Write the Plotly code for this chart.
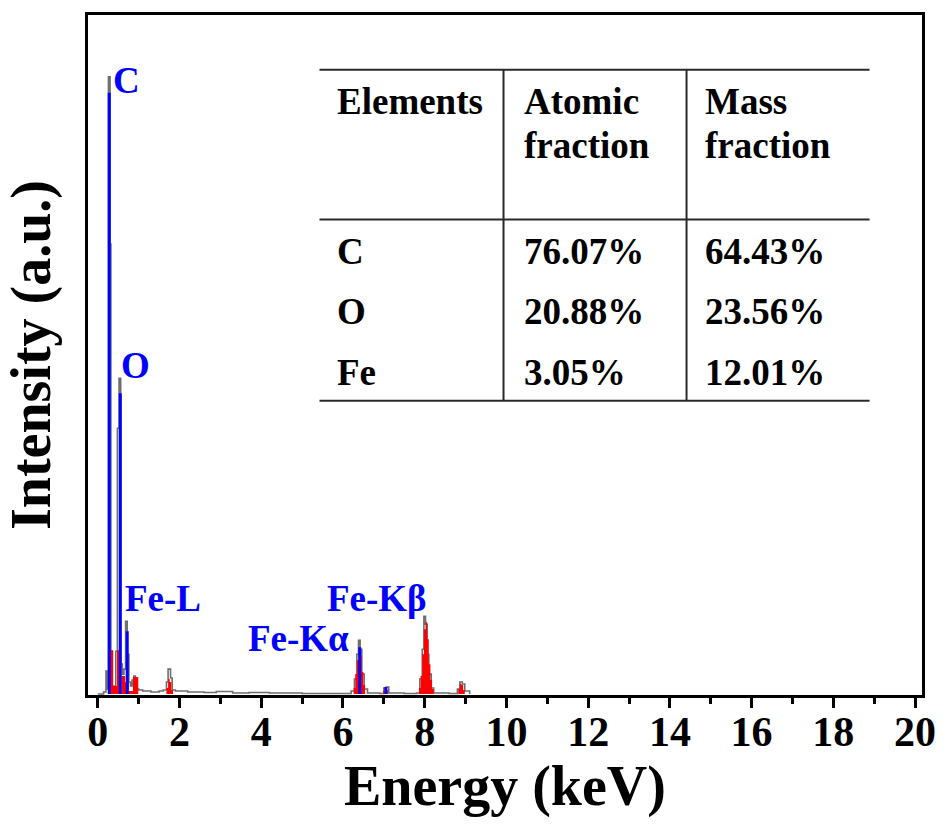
import plotly.graph_objects as go

# ---------------- data ----------------
# gray measured spectrum (step outline)
spec_energy = [0.00, 0.14, 0.20, 0.22, 0.26, 0.30, 0.32, 0.36, 0.44, 0.48, 0.52, 0.56, 0.60,
               0.64, 0.68, 0.72, 0.76, 0.80, 0.84, 0.88, 0.92, 0.96, 1.00, 1.10, 1.30, 1.50,
               1.60, 1.68, 1.72, 1.78, 1.82, 1.90, 2.20, 2.60, 2.90, 3.30, 3.70, 4.20, 5.00,
               6.00, 6.20, 6.28, 6.34, 6.38, 6.42, 6.46, 6.52, 6.60, 6.90, 7.00, 7.06, 7.12,
               7.50, 7.80, 7.88, 7.94, 7.98, 8.02, 8.06, 8.10, 8.16, 8.22, 8.60, 8.80, 8.86,
               8.92, 8.98, 9.10]
spec_counts = [0, 2, 23, 5, 620, 452, 43, 8, 43, 267, 317, 30, 20,
               25, 73, 40, 12, 8, 14, 18, 10, 5, 4, 3, 2, 3,
               4, 12, 25, 16, 4, 3, 2, 1.5, 2.5, 1, 1.5, 1, 0.5,
               0.5, 3, 15, 40, 54, 45, 20, 5, 1, 0.5, 6, 7, 1,
               0.5, 1, 15, 45, 78, 70, 40, 20, 6, 1, 0.5, 5, 12,
               10, 3, 0]

# red fitted areas
fit_energy = [0.00, 0.29, 0.37, 0.47, 0.53, 0.58, 0.67, 0.76, 0.86, 0.99, 1.68, 1.72, 1.76,
              1.80, 1.84, 6.26, 6.30, 6.34, 6.38, 6.42, 6.46, 6.50, 6.54, 6.98, 7.02, 7.06,
              7.10, 7.86, 7.90, 7.94, 7.98, 8.02, 8.06, 8.10, 8.14, 8.18, 8.22, 8.82, 8.86,
              8.90, 8.94, 8.98, 9.02]
fit_counts = [0, 44, 8, 44, 0, 18, 12, 3, 17, 0, 6, 15, 12,
              4, 0, 6, 20, 34, 42, 38, 22, 9, 0, 3, 6, 4,
              0, 6, 18, 40, 65, 72, 55, 30, 14, 5, 0, 5, 10,
              9, 4, 0, 0]

# blue element lines
line_energy = [0.28, 0.55, 0.72, 6.41, 7.05]
line_counts = [604, 302, 63, 47, 7]

# peak labels
label_text = ["C", "O", "Fe-L", "Fe-K\u03b1", "Fe-K\u03b2"]
label_energy = [0.33, 0.52, 0.62, 3.62, 5.55]
label_counts = [616, 330, 96, 56, 96]

# table
table_header_1 = ["Elements", "Atomic", "Mass"]
table_header_2 = ["", "fraction", "fraction"]
table_elements = ["C", "O", "Fe"]
table_atomic = ["76.07%", "20.88%", "3.05%"]
table_mass = ["64.43%", "23.56%", "12.01%"]

x_ticks = list(range(0, 21, 2))

# ---------------- figure ----------------
W, H = 948, 829
ML, MR, MT, MB = 88, 17, 13, 134
FONT = "Liberation Serif"

fig = go.Figure()
fig.add_trace(go.Scatter(x=spec_energy, y=spec_counts, mode="lines", line_shape="hv",
                         line=dict(color="#6e6e6e", width=1.6), hoverinfo="skip"))
fig.add_trace(go.Scatter(x=fit_energy, y=fit_counts, mode="lines", line_shape="hv",
                         fill="tozeroy", fillcolor="#ff0000",
                         line=dict(color="rgba(255,0,0,0)", width=0), hoverinfo="skip"))

# blue vertical element lines (stems from zero to each value)
stem_x, stem_y = [], []
for e, c in zip(line_energy, line_counts):
    stem_x += [e, e, None]
    stem_y += [0, c, None]
fig.add_trace(go.Scatter(x=stem_x, y=stem_y, mode="lines",
                         line=dict(color="#0000ff", width=3), hoverinfo="skip"))

for t, xe, yc in zip(label_text, label_energy, label_counts):
    fig.add_annotation(x=xe, y=yc, text=f"<b>{t}</b>", showarrow=False,
                       xanchor="left", yanchor="middle",
                       font=dict(family=FONT, size=37, color="#0000ff"))

# table as text + rules (paper coords converted from pixels)
pw, ph = W - ML - MR, H - MT - MB
def px(x):
    return (x - ML) / pw
def py(y):
    return 1 - (y - MT) / ph

col_x = [338, 527, 710]
for cx, h1, h2 in zip(col_x, table_header_1, table_header_2):
    fig.add_annotation(xref="paper", yref="paper", x=px(cx), y=py(100), text=f"<b>{h1}</b>",
                       showarrow=False, xanchor="left", yanchor="middle",
                       font=dict(family=FONT, size=37, color="black"))
    if h2:
        fig.add_annotation(xref="paper", yref="paper", x=px(cx), y=py(144), text=f"<b>{h2}</b>",
                           showarrow=False, xanchor="left", yanchor="middle",
                           font=dict(family=FONT, size=37, color="black"))
row_y = [250, 310, 372]
for ry, e, a, m in zip(row_y, table_elements, table_atomic, table_mass):
    for cx, txt in zip(col_x, [e, a, m]):
        fig.add_annotation(xref="paper", yref="paper", x=px(cx), y=py(ry), text=f"<b>{txt}</b>",
                           showarrow=False, xanchor="left", yanchor="middle",
                           font=dict(family=FONT, size=37, color="black"))

rule = dict(color="#2a2a2a", width=2)
for yy in [68, 218, 400]:
    fig.add_shape(type="line", xref="paper", yref="paper", x0=px(322), x1=px(878),
                  y0=py(yy), y1=py(yy), line=rule)
for xx in [508, 693]:
    fig.add_shape(type="line", xref="paper", yref="paper", x0=px(xx), x1=px(xx),
                  y0=py(68), y1=py(400), line=rule)

fig.update_layout(
    width=W, height=H, margin=dict(l=ML, r=MR, t=MT, b=MB),
    paper_bgcolor="white", plot_bgcolor="white", showlegend=False,
    font=dict(family=FONT, color="black"),
)
fig.update_xaxes(range=[-0.24, 20.17], showgrid=False, zeroline=False,
                 showline=True, linecolor="black", linewidth=3, mirror=True,
                 ticks="outside", ticklen=10, tickwidth=3, tickcolor="black",
                 tickvals=x_ticks, ticklabelstandoff=-12,
                 minor=dict(ticks="outside", ticklen=6, tickwidth=3, tickcolor="black", dtick=1),
                 tickfont=dict(family=FONT, size=42, color="black", weight="bold"),
                 title=dict(text="Energy (keV)", standoff=10,
                            font=dict(family=FONT, size=56, color="black", weight="bold")))
fig.update_yaxes(range=[-1, 682], showgrid=False, zeroline=False, showticklabels=False,
                 showline=True, linecolor="black", linewidth=3, mirror=True, ticks="",
                 title=dict(text="Intensity (a.u.)", standoff=22,
                            font=dict(family=FONT, size=56, color="black", weight="bold")))

fig.write_html("out.html")
